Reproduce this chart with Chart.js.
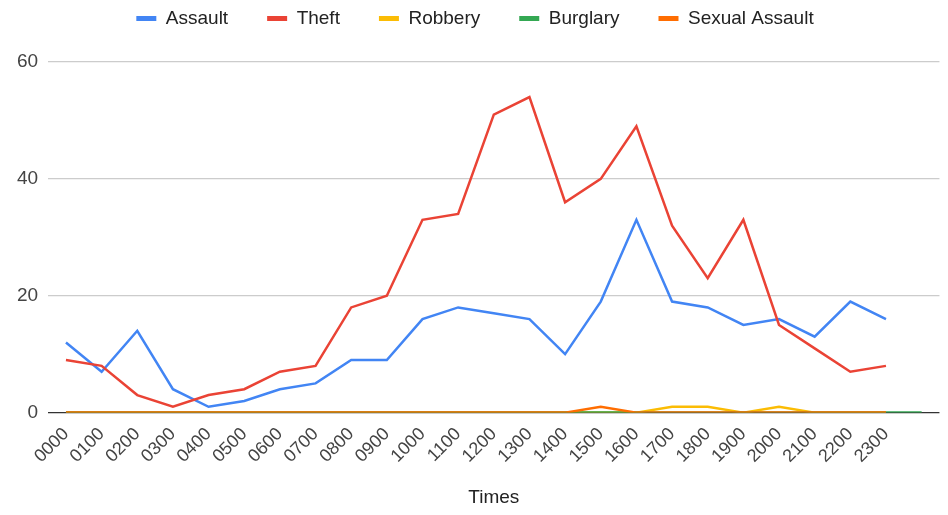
<!DOCTYPE html>
<html>
<head>
<meta charset="utf-8">
<script src="https://cdn.jsdelivr.net/npm/chart.js@4"></script>
<style>
html,body{margin:0;padding:0;background:#fff;}
#wrap{width:948px;height:515px;}
</style>
</head>
<body>
<div id="wrap"><canvas id="c" width="948" height="515"></canvas></div>
<script>
const times = ["0000","0100","0200","0300","0400","0500","0600","0700","0800","0900","1000","1100","1200","1300","1400","1500","1600","1700","1800","1900","2000","2100","2200","2300",""];
const assault = [12,7,14,4,1,2,4,5,9,9,16,18,17,16,10,19,33,19,18,15,16,13,19,16];
const theft = [9,8,3,1,3,4,7,8,18,20,33,34,51,54,36,40,49,32,23,33,15,11,7,8];
const robbery = [0,0,0,0,0,0,0,0,0,0,0,0,0,0,0,0,0,1,1,0,1,0,0,0];
const burglary = [0,0,0,0,0,0,0,0,0,0,0,0,0,0,0,0,0,0,0,0,0,0,0,0,0];
const sexualAssault = [0,0,0,0,0,0,0,0,0,0,0,0,0,0,0,1,0,0,0,0,0,0,0,0];
const yTicks = [0,20,40,60];

const FONT = "Arial, 'Liberation Sans', sans-serif";
function ds(label, data, color, order){
  return {label, data, order, borderColor: color, backgroundColor: color, borderWidth: 2.5,
    pointRadius: 0, pointHoverRadius: 0, tension: 0, fill: false};
}
const legendGap = {
  id: 'legendGap',
  beforeLayout(chart){
    const lg = chart.legend;
    if (lg && !lg._gapPatched){
      const f = lg.fit.bind(lg);
      lg.fit = function(){ f(); this.height += 24; };
      lg._gapPatched = true;
    }
  }
};
new Chart(document.getElementById('c'), {
  type: 'line',
  data: {
    labels: times,
    datasets: [
      ds('Assault', assault, '#4285F4', 5),
      ds('Theft', theft, '#EA4335', 4),
      ds('Robbery', robbery, '#FBBC04', 3),
      ds('Burglary', burglary, '#34A853', 2),
      ds('Sexual Assault', sexualAssault, '#FF6D01', 1)
    ]
  },
  plugins: [legendGap],
  options: {
    responsive: false,
    animation: false,
    events: [],
    layout: {padding: {left: 7, right: 5, top: -30, bottom: 6}},
    plugins: {
      legend: {
        position: 'top',
        labels: {boxWidth: 20, boxHeight: 5, padding: 39, color: '#222',
          font: {family: FONT, size: 19},
          sort: (a, b) => a.datasetIndex - b.datasetIndex,
          generateLabels: (chart) => Chart.defaults.plugins.legend.labels.generateLabels(chart)
            .map(it => Object.assign(it, {lineWidth: 0}))}
      },
      tooltip: {enabled: false}
    },
    scales: {
      x: {
        offset: true,
        grid: {display: false, drawTicks: false},
        border: {display: false},
        ticks: {autoSkip: false, maxRotation: 45, minRotation: 45, padding: 11,
          color: '#444', font: {family: FONT, size: 18}},
        title: {display: true, text: 'Times', color: '#222',
          font: {family: FONT, size: 19}, padding: {top: 8, bottom: 0}}
      },
      y: {
        min: 0, max: 60,
        afterBuildTicks: (s) => { s.ticks = yTicks.map(v => ({value: v})); },
        grid: {drawTicks: false, color: (c) => c.tick && c.tick.value === 0 ? '#333' : '#ccc', lineWidth: 1.2},
        border: {display: false},
        ticks: {padding: 10, color: '#444', font: {family: FONT, size: 19}}
      }
    }
  }
});
</script>
</body>
</html>
